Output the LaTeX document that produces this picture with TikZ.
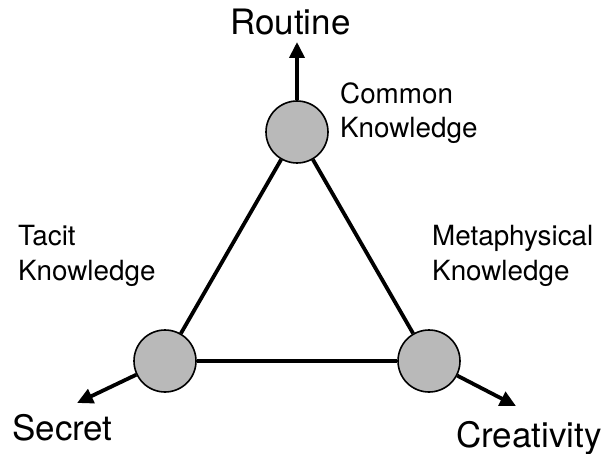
\documentclass[tikz,border=0pt]{standalone}
\usepackage{fontspec}
\setmainfont{TeX Gyre Heros}
\usetikzlibrary{arrows.meta}
\begin{document}
\begin{tikzpicture}[x=1pt,y=-1pt,
  knode/.style={circle,draw=black,line width=1.6pt,fill=gray!55,minimum size=62pt,inner sep=0pt},
  edge/.style={line width=3.8pt},
  outarrow/.style={line width=3.8pt,-{Triangle[length=16pt,width=15pt]}},
  big/.style={font=\fontsize{35}{36}\selectfont,inner sep=0pt},
  lbl/.style={font=\fontsize{27.8}{34.5}\selectfont,inner sep=0pt,align=left}]
\useasboundingbox (0,0) rectangle (612,454);
\node[knode] (top) at (297,132) {};
\node[knode] (left) at (165,361) {};
\node[knode] (right) at (429,361) {};
\draw[edge] (top) -- (left);
\draw[edge] (top) -- (right);
\draw[edge] (left) -- (right);
\coordinate (rt) at (297,42);
\coordinate (st) at (77,403);
\coordinate (ct) at (516,406);
\draw[outarrow] (top) -- (rt);
\draw[outarrow] (left) -- (st);
\draw[outarrow] (right) -- (ct);
\node[big,anchor=base west] (routine) at (230,35) {Routine};
\node[big,anchor=base west] (secret) at (12,440) {Secret};
\node[big,anchor=base west] (creativity) at (456,447) {Creativity};
\node[lbl,anchor=base west] (common) at (340,138) {Common\\Knowledge};
\node[lbl,anchor=base west] (tacit) at (18,280) {Tacit\\Knowledge};
\node[lbl,anchor=base west] (meta) at (432,280) {Metaphysical\\Knowledge};
\end{tikzpicture}
\end{document}
